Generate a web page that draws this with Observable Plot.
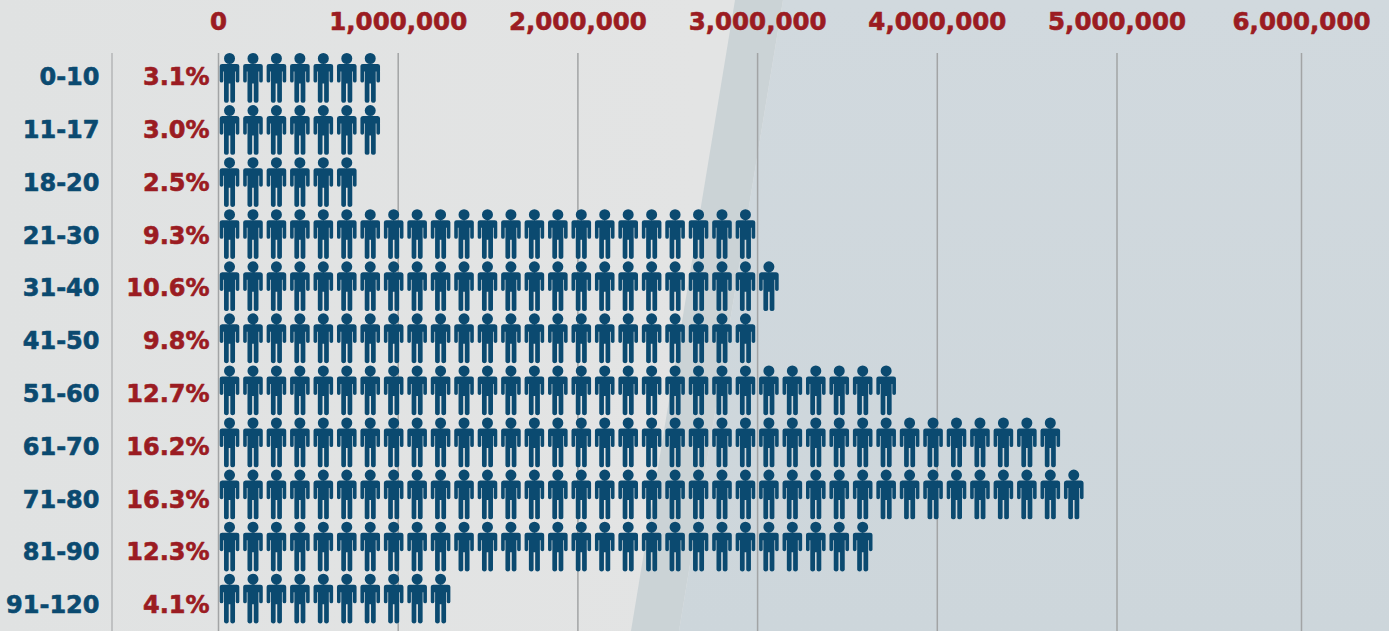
<!DOCTYPE html>
<html>
<head>
<meta charset="utf-8">
<script src="https://cdn.jsdelivr.net/npm/d3@7"></script>
<script src="https://cdn.jsdelivr.net/npm/@observablehq/plot@0.6"></script>
<style>
  html, body { margin: 0; padding: 0; background: #e2e4e4; }
  #chart { position: relative; width: 1389px; height: 631px; overflow: hidden; background: linear-gradient(90deg, #e0e2e2, #e3e4e4 700px); }
  #chart::before, #chart::after { content: ""; position: absolute; inset: 0; }
  #chart::before { background: #cbd3d6; clip-path: polygon(735px 0, 783px 0, 679px 631px, 631px 631px); }
  #chart::after { background: linear-gradient(#d1d9de, #cdd6db); clip-path: polygon(783px 0, 1389px 0, 1389px 631px, 679px 631px); }
  #chart svg { position: relative; z-index: 1; display: block; }
</style>
</head>
<body>
<div id="chart"></div>
<script>
// Age bands, their share of the total, and the number of figures in each row
const ageBands = ["0-10", "11-17", "18-20", "21-30", "31-40", "41-50", "51-60", "61-70", "71-80", "81-90", "91-120"];
const shares = ["3.1%", "3.0%", "2.5%", "9.3%", "10.6%", "9.8%", "12.7%", "16.2%", "16.3%", "12.3%", "4.1%"];
const figureCounts = [7, 7, 6, 23, 24, 23, 29, 36, 37, 28, 10];
const peoplePerFigure = 130500;
const axisTicks = [0, 1000000, 2000000, 3000000, 4000000, 5000000, 6000000];

const navy = "#0b4a70";
const red = "#9b1c22";
const labelFont = "'DejaVu Sans', sans-serif";

// One slot in the row per figure, centred in its share of the x axis
const figures = figureCounts.flatMap((count, row) =>
  d3.range(count).map((i) => ({row, people: (i + 0.47) * peoplePerFigure}))
);

// The text rows run on a slightly longer pitch than the figure rows
const rowLabels = ageBands.map((age, i) => ({age, share: shares[i], row: i * 1.014 - 0.02}));

// Standing person drawn around its centre, sized from the dot radius of 10
const person = {
  draw(context, size) {
    const k = Math.sqrt(size / Math.PI) / 10;
    const p = (x, y) => [x * k, y * k];
    const poly = (points) => {
      points.forEach(([x, y], i) => (i ? context.lineTo(...p(x, y)) : context.moveTo(...p(x, y))));
      context.closePath();
    };
    context.moveTo(...p(5.5, -20));
    context.arc(0, -20 * k, 5.5 * k, 0, 2 * Math.PI);
    context.closePath();
    poly([
      [-7.4, -14.5], [7.4, -14.5], [9.2, -13.9], [9.8, -12.4], [9.8, 2.6], [9.3, 3.7], [8, 4.1], [6.7, 3.7], [6.2, 2.6],
      [6.2, -7], [5.5, -7], [5.5, 22.6], [4.7, 23.9], [3.1, 24.3], [1.5, 23.9], [0.8, 22.6], [0.8, 5], [-0.8, 5],
      [-0.8, 22.6], [-1.5, 23.9], [-3.1, 24.3], [-4.7, 23.9], [-5.5, 22.6], [-5.5, -7], [-6.2, -7], [-6.2, 2.6],
      [-6.7, 3.7], [-8, 4.1], [-9.3, 3.7], [-9.8, 2.6], [-9.8, -12.4], [-9.2, -13.9]
    ]);
  }
};

const chart = Plot.plot({
  width: 1389,
  height: 631,
  marginTop: 53,
  marginBottom: 0,
  marginLeft: 0,
  marginRight: 0,
  style: {background: "transparent", overflow: "visible"},
  x: {type: "linear", domain: [0, 5000000, 6000000], range: [218, 1116.5, 1301]},
  y: {type: "linear", domain: [0, 10], range: [78, 598.7], axis: null},
  marks: [
    Plot.gridX(axisTicks, {stroke: "#a2a4a5", strokeOpacity: 1, strokeWidth: 1.5}),
    Plot.ruleX([0], {dx: -106.5, stroke: "#b4b6b7", strokeWidth: 1.5}),
    Plot.axisX(axisTicks, {
      anchor: "top",
      tickSize: 0,
      tickPadding: 0,
      tickFormat: d3.format(","),
      label: null,
      fill: red,
      textStroke: red,
      textStrokeWidth: 0.6,
      textStrokeOpacity: 1,
      fontSize: 24.5,
      fontWeight: 700,
      fontFamily: labelFont,
      dy: -24
    }),
    Plot.dot(figures, {x: "people", y: "row", r: 10, symbol: person, fill: navy, stroke: "none"}),
    Plot.text(rowLabels, {
      text: "age", y: "row", frameAnchor: "left", dx: 99, textAnchor: "end",
      fill: navy, stroke: navy, strokeWidth: 0.6, fontSize: 24, fontWeight: 700, fontFamily: labelFont
    }),
    Plot.text(rowLabels, {
      text: "share", y: "row", frameAnchor: "left", dx: 209, textAnchor: "end",
      fill: red, stroke: red, strokeWidth: 0.6, fontSize: 24, fontWeight: 700, fontFamily: labelFont
    })
  ]
});
document.getElementById("chart").append(chart);
</script>
</body>
</html>
